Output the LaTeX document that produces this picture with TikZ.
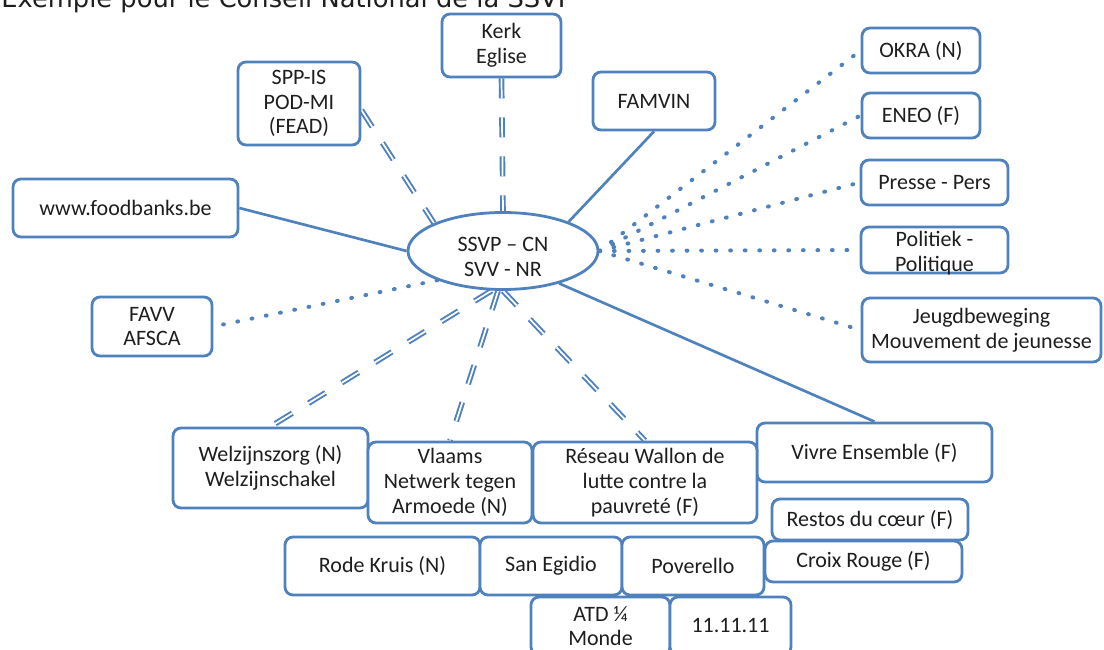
\documentclass[tikz,border=0pt]{standalone}
\usepackage{fontspec}
\usepackage{graphicx}
\setmainfont{Carlito}
\newfontfamily\titlefont{DejaVu Sans}
\usetikzlibrary{shapes.geometric,backgrounds}
\definecolor{accent}{HTML}{4F81BD}
\definecolor{txt}{HTML}{1E1E1E}
\begin{document}
\begin{tikzpicture}[x=0.75pt,y=-0.75pt,
  box/.style={draw=accent, line width=2.1pt, rounded corners=6pt, fill=white, inner sep=0pt,
    align=center, text=txt, font={\fontsize{16.5}{18.5}\selectfont}},
  sz/.style 2 args={minimum width=#1*0.75pt, minimum height=#2*0.75pt},
  ell/.style={ellipse, draw=accent, line width=2.1pt, fill=white, inner sep=0pt,
    minimum width=142.5pt, minimum height=57.75pt},
  inlabel/.style={inner sep=0pt, align=center, text=txt, font={\fontsize{16.5}{18.7}\selectfont}},
  solidlink/.style={draw=accent, line width=2pt},
  dbllink/.style={draw=accent, line width=1.45pt, double=white, double distance=1.3pt,
    dash pattern=on 15pt off 14.25pt},
  dotlink/.style={draw=accent, line width=3pt, line cap=round, dash pattern=on 0.6pt off 10.3pt}
]
\clip (0,0) rectangle (1104,650);
\node[anchor=base west, inner sep=0pt, text=txt] (title) at (1,7.5)
  {\resizebox{429pt}{!}{\titlefont Exemple pour le Conseil National de la SSVP}};

\node[ell, label={[inlabel, yshift=-4.5pt]center:SSVP – CN\\SVV - NR}] (ssvp) at (503,251) {};

\node[box, sz={119}{63}] (kerk) at (501.5,45.5) {Kerk\\Eglise};
\node[box, sz={122}{83}] (spp) at (299,103.5) {SPP-IS\\POD-MI\\(FEAD)};
\node[box, sz={225}{58}] (food) at (125.5,208) {www.foodbanks.be};
\node[box, sz={120}{59}] (favv) at (152,326.5) {FAVV\\AFSCA};
\node[box, sz={122}{58}] (famvin) at (654,101) {FAMVIN};
\node[box, sz={118}{45}] (okra) at (921,50.5) {OKRA (N)};
\node[box, sz={118}{45}] (eneo) at (921,115.5) {ENEO (F)};
\node[box, sz={147}{45}] (presse) at (934.5,182.5) {Presse - Pers};
\node[box, sz={147}{46}, label={[inlabel, yshift=-2.5pt]center:Politiek -\\Politique}] (politiek) at (934.5,250) {};
\node[box, sz={239}{64}] (jeugd) at (981.5,330) {Jeugdbeweging\\Mouvement de jeunesse};
\node[box, sz={235}{59}] (vivre) at (874.5,452.5) {Vivre Ensemble (F)};
\node[box, sz={195}{80}] (welz) at (270.5,468) {Welzijnszorg (N)\\Welzijnschakel};
\node[box, sz={164}{81}] (vlaams) at (450,482.5) {Vlaams\\Netwerk tegen\\Armoede (N)};
\node[box, sz={224}{81}] (reseau) at (645,482.5) {Réseau Wallon de\\lutte contre la\\pauvreté (F)};
\node[box, sz={196}{41}] (restos) at (870,519.5) {Restos du cœur (F)};
\node[box, sz={197}{41}] (croix) at (863.5,561.5) {Croix Rouge (F)};
\node[box, sz={195}{58}] (rode) at (382.5,566) {Rode Kruis (N)};
\node[box, sz={142}{58}] (san) at (551,566) {San Egidio};
\node[box, sz={142}{58}] (pover) at (693,566) {Poverello};
\node[box, sz={139}{58}] (atd) at (600.5,626) {ATD ¼\\Monde};
\node[box, sz={121}{58}] (onze) at (730.5,626) {11.11.11};

\begin{scope}[on background layer]
  \draw[solidlink] (food.east) -- (ssvp.west);
  \draw[solidlink] (famvin.south) -- (ssvp.24);
  \draw[solidlink] (ssvp.-30) -- (vivre.north);
  \draw[dbllink] (kerk.south) -- (ssvp.north);
  \draw[dbllink] (spp.-6) -- (ssvp.158);
  \draw[dbllink] (ssvp.-106) -- (welz.north);
  \draw[dbllink] (ssvp.-97) -- (vlaams.north);
  \draw[dbllink] (ssvp.south) -- (reseau.north);
  \draw[dotlink] (ssvp.204) -- (favv.east);
  \draw[dotlink] (ssvp.east) -- (okra.west);
  \draw[dotlink] (ssvp.east) -- (eneo.west);
  \draw[dotlink] (ssvp.east) -- (presse.west);
  \draw[dotlink] (ssvp.east) -- (politiek.west);
  \draw[dotlink] (ssvp.east) -- (jeugd.west);
\end{scope}
\end{tikzpicture}
\end{document}
